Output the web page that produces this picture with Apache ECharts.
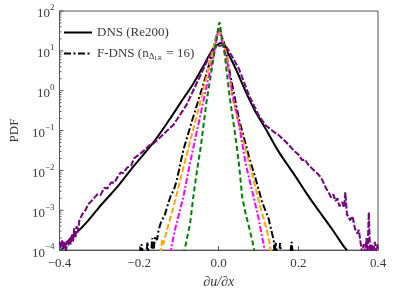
<!DOCTYPE html>
<html><head><meta charset="utf-8">
<script src="https://cdn.jsdelivr.net/npm/echarts@6/dist/echarts.min.js"></script>
<style>html,body{margin:0;padding:0;background:#fff}#c{width:393px;height:294px}</style>
</head><body><div id="c"></div>
<script>
// ---- data (PDF values) ----
const dnsX = [-0.395,-0.37,-0.345,-0.328,-0.3,-0.27,-0.25,-0.213,-0.163,-0.122,-0.097,-0.064,-0.04,-0.015,0.002,0.007,0.018,0.043,0.068,0.092,0.117,0.15,0.191,0.216,0.233,0.257,0.29,0.315,0.322];
const dnsY = [1e-4,2.1e-4,3.6e-4,5.5e-4,1.2e-3,2.6e-3,4.4e-3,0.013,0.052,0.2,0.48,1.5,3.9,11,15.5,15.8,11,3.5,0.93,0.3,0.115,0.03,7.5e-3,3.1e-3,1.74e-3,8.1e-4,2.8e-4,1.2e-4,1e-4];

const lesX = [-0.399,-0.396,-0.393,-0.39,-0.387,-0.384,-0.381,-0.378,-0.375,-0.372,-0.369,-0.366,-0.363,-0.36,-0.357,-0.354,-0.35,-0.345,-0.34,-0.335,-0.328,-0.32,-0.315,-0.305,-0.297,-0.287,-0.28,-0.27,-0.262,-0.255,-0.246,-0.24,-0.23,-0.22,-0.213,-0.19,-0.175,-0.163,-0.147,-0.125,-0.114,-0.081,-0.06,-0.031,-0.015,0,0.008,0.018,0.035,0.051,0.076,0.1,0.117,0.14,0.15,0.17,0.191,0.2,0.21,0.216,0.225,0.233,0.245,0.25,0.257,0.262,0.27,0.276,0.282,0.288,0.293,0.298,0.303,0.31,0.315,0.318,0.322,0.33,0.336,0.342,0.348,0.352,0.356,0.36,0.364,0.368,0.371,0.374,0.377,0.38,0.384,0.388,0.392,0.396,0.399];
const lesY = [1.6e-4,8.9e-5,1.8e-4,1.1e-4,1.6e-4,8.9e-5,1.7e-4,1.3e-4,2e-4,1.4e-4,2.5e-4,1.6e-4,3.5e-4,2e-4,4e-4,2.8e-4,5.6e-4,7.1e-4,8.9e-4,1e-3,1.4e-3,1.7e-3,1.6e-3,2.5e-3,2.4e-3,3.7e-3,3.5e-3,5e-3,4.9e-3,6.6e-3,8.9e-3,8.5e-3,0.0117,0.0132,0.02,0.03,0.042,0.048,0.068,0.11,0.138,0.44,1.23,5.1,11,13.2,13.8,13.2,6.8,3.5,0.76,0.245,0.138,0.09,0.078,0.05,0.03,0.025,0.0178,0.019,0.0138,0.0115,8.9e-3,7.9e-3,6.6e-3,6.3e-3,3.5e-3,2.8e-3,2.1e-3,2.5e-3,1.7e-3,2e-3,1.26e-3,1.6e-3,1.17e-3,2.8e-3,7.9e-4,5.6e-4,7.1e-4,3.5e-4,2.6e-4,3.2e-4,1.6e-4,8.9e-5,1.4e-4,8.9e-5,2e-4,8.9e-5,8.9e-4,8.9e-5,1.4e-4,8.9e-5,1.6e-4,8.9e-5,1.4e-4];

const fdnsX = [-0.198,-0.194,-0.19,-0.182,-0.179,-0.176,-0.17,-0.167,-0.164,-0.16,-0.155,-0.151,-0.145,-0.14,-0.135,-0.13,-0.12,-0.113,-0.106,-0.1,-0.089,-0.07,-0.05,-0.03,-0.015,0,0.004,0.015,0.03,0.051,0.076,0.092,0.109,0.117,0.125,0.134,0.138,0.14,0.143,0.146,0.152,0.154,0.157,0.18,0.183,0.186];
const fdnsY = [7.9e-5,1.4e-4,7.9e-5,7.9e-5,1.6e-4,7.9e-5,7.9e-5,2e-4,8.9e-5,2.2e-4,1.8e-4,3.2e-4,5e-4,6.3e-4,7.9e-4,1.17e-3,2.4e-3,3.2e-3,5.4e-3,0.01,0.032,0.14,0.63,2.8,10,38,41.7,14.1,2.2,0.19,0.022,6.5e-3,1.6e-3,1e-3,6.3e-4,2.6e-4,1.8e-4,7.9e-5,1.6e-4,7.9e-5,7.9e-5,1.5e-4,7.9e-5,7.9e-5,1.6e-4,7.9e-5];

const orangeX = [-0.147,-0.142,-0.139,-0.13,-0.114,-0.093,-0.07,-0.044,-0.02,0,0.004,0.02,0.035,0.06,0.084,0.105,0.118,0.125,0.128,0.131];
const orangeY = [7.9e-5,1.8e-4,1.4e-4,3.2e-4,1.17e-3,7.9e-3,0.063,0.63,6.3,38,41.7,8,0.63,0.063,7.9e-3,1.17e-3,4e-4,2.1e-4,1.5e-4,7.9e-5];

const magentaX = [-0.121,-0.118,-0.11,-0.1,-0.089,-0.073,-0.05,-0.035,-0.015,0,0.004,0.02,0.035,0.05,0.068,0.088,0.1,0.109,0.113,0.116];
const magentaY = [7.9e-5,1.3e-4,3.2e-4,7.9e-4,2.1e-3,0.014,0.16,0.8,6.3,35.5,38,6.3,0.8,0.16,0.014,2.1e-3,6.3e-4,2.1e-4,1.4e-4,7.9e-5];

const greenX = [-0.09,-0.085,-0.072,-0.064,-0.056,-0.045,-0.031,-0.015,0,0.002,0.015,0.028,0.04,0.051,0.059,0.068,0.076,0.085,0.088,0.091];
const greenY = [7.9e-5,1.1e-4,4.6e-4,2.1e-3,7.9e-3,0.04,0.5,5,44.7,52.5,8,0.63,0.1,0.014,2.1e-3,7.9e-4,3.8e-4,1.6e-4,1.45e-4,7.9e-5];

const yDecades = [1e-4,1e-3,1e-2,1e-1,1,10,100];
const minorMult = [2,3,4,5,6,7,8,9];

const legendNames = ['DNS (Re200)', 'F-DNS (nΔLR = 16)'];

// ---- build ----
const pairs = (xs, ys) => xs.map((x, i) => [x, ys[i]]);
const minorVals = [];
yDecades.slice(0, -1).forEach(d => minorMult.forEach(m => minorVals.push(d * m)));

const FONT = '"Liberation Serif", "DejaVu Serif", serif';
const TXT = '#3a3a3a';
const AX = '#555';

const legendBase = {left: 58, itemWidth: 28, itemHeight: 14, itemGap: 6,
  itemStyle: {opacity: 0}, textStyle: {fontFamily: FONT, fontSize: 13, color: TXT}};

const chart = echarts.init(document.getElementById('c'), null, {renderer: 'canvas'});
chart.setOption({
  animation: false,
  textStyle: {fontFamily: FONT, color: TXT},
  grid: {left: 54, right: 15, top: 11, bottom: 41, show: true, borderColor: AX, borderWidth: 1, backgroundColor: 'transparent'},
  legend: [Object.assign({}, legendBase, {data: [legendNames[0]], top: 21}),
    Object.assign({}, legendBase, {
      data: [legendNames[1]], top: 42,
      formatter: () => 'F-DNS (n{s1|Δ}{s2|LR} = 16)',
      textStyle: {fontFamily: FONT, fontSize: 13, color: TXT,
        rich: {s1: {fontSize: 9, fontFamily: FONT, color: TXT, padding: [6, 0, 0, 0]},
               s2: {fontSize: 6, fontFamily: FONT, color: TXT, padding: [9, 1, 0, 0]}}}
    })],
  xAxis: {
    type: 'value', min: -0.4, max: 0.4, interval: 0.2, position: 'bottom',
    name: '∂u/∂x', nameLocation: 'middle', nameGap: 20,
    nameTextStyle: {fontFamily: FONT, fontSize: 14, fontStyle: 'italic', color: TXT},
    axisLine: {show: true, onZero: false, lineStyle: {color: AX}},
    axisTick: {inside: true, length: 4, lineStyle: {color: AX}},
    axisLabel: {fontFamily: FONT, fontSize: 13, color: TXT, margin: 7,
      formatter: v => (v < 0 ? '−' : '') + Math.abs(v).toFixed(1)},
    splitLine: {show: false}, minorSplitLine: {show: false}
  },
  yAxis: {
    type: 'log', logBase: 10, min: 1e-4, max: 100, splitNumber: 6, position: 'left',
    name: 'PDF', nameLocation: 'middle', nameGap: 35,
    nameTextStyle: {fontFamily: FONT, fontSize: 13, color: TXT},
    axisLine: {show: false, onZero: false},
    axisTick: {show: false},
    axisLabel: {fontFamily: FONT, color: TXT, margin: 5,
      formatter: v => {
        const e = Math.round(Math.log10(v));
        return '{b|10}{s|' + (e < 0 ? '−' + (-e) : e) + '}';
      },
      rich: {b: {fontSize: 13, fontFamily: FONT, color: TXT, padding: [6, 0, 0, 0]},
             s: {fontSize: 9, fontFamily: FONT, color: TXT, padding: [0, 0, 6, 0]}}
    },
    splitLine: {show: false}, minorSplitLine: {show: false}
  },
  series: [
    {name: legendNames[0], type: 'line', data: pairs(dnsX, dnsY), smooth: 0.3, symbol: 'none', z: 2,
      lineStyle: {color: '#000', width: 2}, itemStyle: {color: '#000'}},
    {name: 'LES cyan', type: 'line', data: pairs(lesX, lesY), symbol: 'none', z: 3,
      lineStyle: {color: '#00e0ee', width: 2, type: [2, 6], dashOffset: 4}},
    {name: 'LES', type: 'line', data: pairs(lesX, lesY), symbol: 'none', z: 4,
      lineStyle: {color: '#800080', width: 2, type: [6, 2]}},
    {name: legendNames[1], type: 'line', data: pairs(fdnsX, fdnsY), symbol: 'none', z: 5,
      lineStyle: {color: '#000', width: 2, type: [7, 2.5, 2, 2.5]}, itemStyle: {color: '#000'}},
    {name: 'orange', type: 'line', data: pairs(orangeX, orangeY), symbol: 'none', z: 6,
      lineStyle: {color: '#ffa500', width: 2, type: [6, 2.5]}},
    {name: 'magenta', type: 'line', data: pairs(magentaX, magentaY), symbol: 'none', z: 7,
      lineStyle: {color: '#ff00ff', width: 2, type: [6, 2, 2, 2]}},
    {name: 'green', type: 'line', data: pairs(greenX, greenY), symbol: 'none', z: 8,
      lineStyle: {color: '#008000', width: 2, type: [5, 3]}}
  ]
});

// left-axis major and minor log ticks, positioned through the chart's own scales
const tickMarks = [];
yDecades.forEach(v => tickMarks.push([v, 4]));
minorVals.forEach(v => tickMarks.push([v, 2]));
chart.setOption({
  graphic: tickMarks.map(([v, len]) => {
    const p = chart.convertToPixel({gridIndex: 0}, [-0.4, v]);
    return {type: 'line', silent: true, z: 10,
      shape: {x1: p[0], y1: p[1], x2: p[0] + len, y2: p[1]}, style: {stroke: AX, lineWidth: 1}};
  })
});

// remove any stray stand-alone full-height vertical rule inside the plot (not part of the data)
try {
  const zr = chart.getZr();
  const gl = chart.convertToPixel({gridIndex: 0}, [-0.4, 100]);
  const gr = chart.convertToPixel({gridIndex: 0}, [0.4, 1e-4]);
  const list = zr.storage.getDisplayList(true);
  list.forEach(el => {
    if (!el.getBoundingRect) return;
    const r = el.getBoundingRect().clone();
    if (el.transform) r.applyTransform(el.transform);
    if (r.width <= 3 && r.height > 60 && r.x > gl[0] + 4 && r.x < gr[0] - 4) {
      el.ignore = true;
    }
  });
  zr.refresh();
} catch (e) {}
</script>
</body></html>
